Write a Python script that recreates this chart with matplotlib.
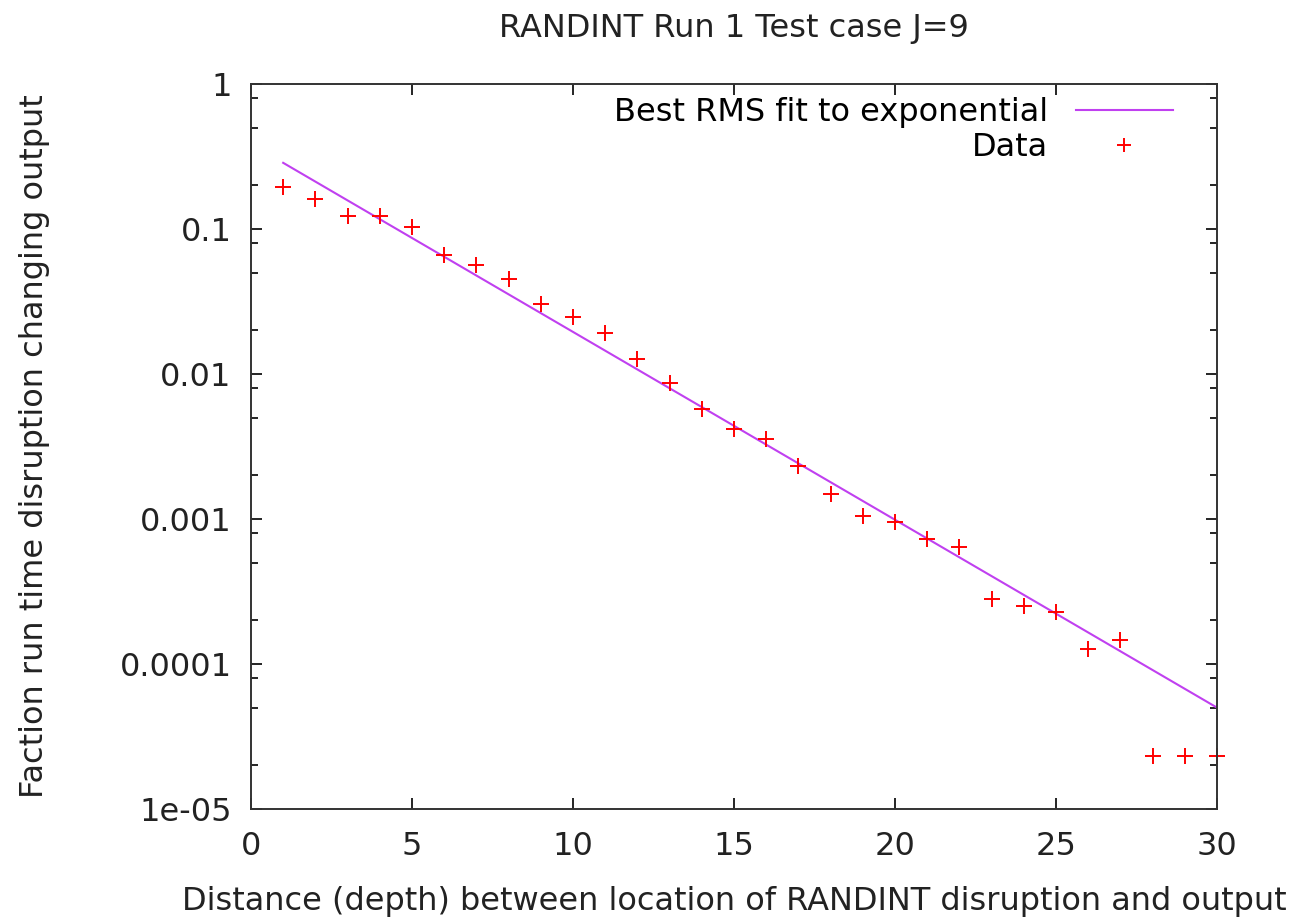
import numpy as np
import matplotlib
matplotlib.use("Agg")
import matplotlib.pyplot as plt
from matplotlib.ticker import LogLocator, NullFormatter, FixedLocator

# ── data ─────────────────────────────────────────────────────────────────────
depth = np.arange(1, 31)
frac = [0.194, 0.160, 0.123, 0.123, 0.103, 0.0659, 0.0562, 0.0450, 0.0305, 0.0246,
        0.0191, 0.0126, 0.00862, 0.00571, 0.00415, 0.00355, 0.00233, 0.00149, 0.00105,
        0.000959, 0.000724, 0.000638, 0.000279, 0.000252, 0.000230, 0.000126,
        0.000147, 2.33e-5, 2.33e-5, 2.33e-5]

# end points of the exponential fit (straight on the log axis)
fit_x = [1, 30]
fit_y = [0.286, 5.0e-5]

# ── plot ─────────────────────────────────────────────────────────────────────
FS = 23
plt.rcParams['font.family'] = 'DejaVu Sans'

fig = plt.figure(figsize=(12.91, 9.17), dpi=100)
ax = fig.add_axes([0.1944, 0.1178, 0.7483, 0.7906])

ax.plot(fit_x, fit_y, color='#c040f0', lw=1.5, label='Best RMS fit to exponential')
ax.plot(depth, frac, ls='none', marker='+', ms=12, mew=1.4, color='red', label='Data',
        clip_on=False)

ax.set_yscale('log')
ax.set_xlim(0, 30)
ax.set_ylim(1e-5, 1)

ax.xaxis.set_major_locator(FixedLocator([0, 5, 10, 15, 20, 25, 30]))
ax.yaxis.set_major_locator(FixedLocator([1e-5, 1e-4, 1e-3, 1e-2, 1e-1, 1]))
ax.set_yticklabels(['1e-05', '0.0001', '0.001', '0.01', '0.1', '1'])
ax.yaxis.set_minor_locator(LogLocator(base=10, subs=(2, 5, 8)))
ax.yaxis.set_minor_formatter(NullFormatter())

ax.tick_params(which='both', direction='in', top=True, right=True, labelsize=FS,
               colors='black', labelcolor='#222222')
ax.tick_params(which='major', length=8, width=1.2)
ax.tick_params(which='minor', length=5, width=1.2)
ax.tick_params(axis='x', pad=16)
ax.tick_params(axis='y', pad=14)
for sp in ax.spines.values():
    sp.set_linewidth(1.4)
    sp.set_color('#333333')

ax.set_title('RANDINT Run 1 Test case J=9', fontsize=FS, pad=34, color='#222222')
ax.set_xlabel('Distance (depth) between location of RANDINT disruption and output',
              fontsize=FS, labelpad=17, color='#222222')
ax.set_ylabel('Faction run time disruption changing output', fontsize=FS,
              labelpad=50, color='#222222')

ax.legend(loc='upper right', bbox_to_anchor=(0.968, 0.999), borderaxespad=0,
          frameon=False, markerfirst=False, handlelength=3.06, handletextpad=0.85,
          labelspacing=0.1, fontsize=FS, markerscale=0.8)

fig.savefig('out.png', dpi=100)
